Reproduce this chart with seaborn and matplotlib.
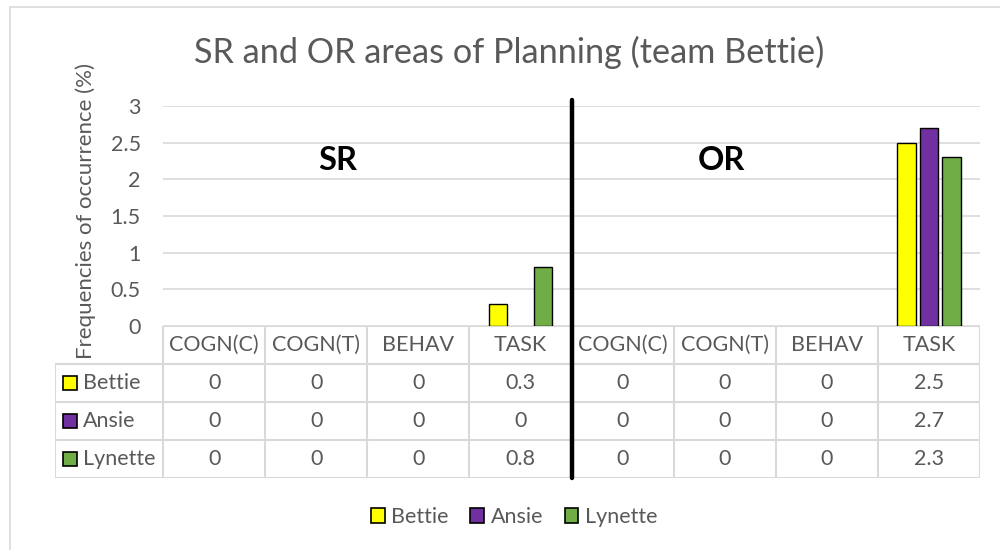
import matplotlib
matplotlib.use("Agg")
import matplotlib.pyplot as plt
import seaborn as sns
import pandas as pd
import numpy as np
from matplotlib.patches import Patch, Rectangle

# ---- data ----
areas = ["SR", "SR", "SR", "SR", "OR", "OR", "OR", "OR"]
categories = ["COGN(C)", "COGN(T)", "BEHAV", "TASK", "COGN(C)", "COGN(T)", "BEHAV", "TASK"]
members = ["Bettie", "Ansie", "Lynette"]
bettie = [0, 0, 0, 0.3, 0, 0, 0, 2.5]
ansie = [0, 0, 0, 0, 0, 0, 0, 2.7]
lynette = [0, 0, 0, 0.8, 0, 0, 0, 2.3]
colors = ["#FFFF00", "#7030A0", "#70AD47"]
yticks = [0, 0.5, 1, 1.5, 2, 2.5, 3]

keys = [f"{a}|{c}" for a, c in zip(areas, categories)]
series = {"Bettie": bettie, "Ansie": ansie, "Lynette": lynette}
rows = []
for m in members:
    for k, v in zip(keys, series[m]):
        rows.append({"key": k, "member": m, "value": v})
df = pd.DataFrame(rows)

sns.set_theme(style="white")
plt.rcParams["font.family"] = ["Lato", "DejaVu Sans"]
TXT = "#595959"
GRID = "#D9D9D9"
FS = 15.5

W, H = 1000, 550
fig = plt.figure(figsize=(10, 5.5), dpi=100)
fig.patch.set_facecolor("white")

# outer border
fig.patches.append(Rectangle((10 / W, -0.1), 1.2, 1.1 - 7 / H, transform=fig.transFigure,
                             fill=False, edgecolor=GRID, lw=1.2))

pl, pr, pt, pb = 163, 980, 106, 326
ax = fig.add_axes([pl / W, 1 - pb / H, (pr - pl) / W, (pb - pt) / H])
ax.set_zorder(3)
ax.patch.set_alpha(0)
sns.barplot(data=df, x="key", y="value", hue="member", order=keys, hue_order=members,
            palette=colors, width=0.66, gap=0.18, edgecolor="black", linewidth=1.0,
            ax=ax, legend=False, saturation=1)
for p in ax.patches:
    if p.get_height() == 0:
        p.set_visible(False)

n = len(keys)
ax.set_xlim(-0.5, n - 0.5)
ax.set_ylim(0, 3)
ax.set_yticks(yticks)
ax.set_yticklabels([f"{t:g}" for t in yticks], color=TXT, fontsize=FS)
ax.tick_params(axis="y", length=0, pad=16)
ax.set_xticks([])
ax.set_xlabel("")
ax.set_ylabel("")
for s in ax.spines.values():
    s.set_visible(False)
ax.yaxis.grid(True, color=GRID, lw=1.2)
ax.set_axisbelow(True)

# area labels
ax.text(1.21, 2.26, "SR", ha="center", va="center", fontsize=23.5, fontweight="bold", color="black")
ax.text(4.97, 2.26, "OR", ha="center", va="center", fontsize=23.5, fontweight="bold", color="black")

# separator
sep = n / 2 - 0.5
tbl_bottom = 478
ax.axvline(sep, ymin=-(tbl_bottom - pb) / (pb - pt), ymax=(pb - 100) / (pb - pt),
           color="black", lw=3.2, clip_on=False, zorder=10)

# ---- data table ----
tl = 55
upx = n / (pr - pl)
xleft = -0.5 - (pl - tl) * upx
tax = fig.add_axes([tl / W, 1 - tbl_bottom / H, (pr - tl) / W, (tbl_bottom - pb) / H])
tax.set_zorder(1)
tax.axis("off")
lk = dict(color=GRID, lw=1.5)
tax.plot([-0.5, n - 0.5], [0, 0], **lk)
for r in range(1, 5):
    tax.plot([xleft, n - 0.5], [r, r], **lk)
for k in range(n + 1):
    tax.plot([k - 0.5, k - 0.5], [0, 4], **lk)
tax.plot([xleft, xleft], [1, 4], **lk)
for i, c in enumerate(categories):
    tax.text(i, 0.5, c, ha="center", va="center", fontsize=FS, color=TXT)
for r, m in enumerate(members, start=1):
    yc = r + 0.5
    tax.plot([xleft + 15 * upx], [yc], marker="s", ms=10, mfc=colors[r - 1],
             mec="black", mew=1.2, clip_on=False)
    tax.text(xleft + 28 * upx, yc, m, ha="left", va="center", fontsize=FS, color=TXT)
    for i, v in enumerate(series[m]):
        tax.text(i, yc, f"{v:g}", ha="center", va="center", fontsize=FS, color=TXT)
tax.set_xlim(xleft, n - 0.5)
tax.set_ylim(4, 0)

# title and y label
fig.text(509 / W, 1 - 52 / H, "SR and OR areas of Planning (team Bettie)", ha="center",
         va="center", fontsize=24.7, color=TXT)
fig.text(86 / W, 1 - 211 / H, "Frequencies of occurrence (%)", rotation=90, ha="center",
         va="center", fontsize=16, color=TXT)

# legend
handles = [Patch(facecolor=c, edgecolor="black", lw=1.2, label=m) for c, m in zip(colors, members)]
fig.legend(handles=handles, loc="center", bbox_to_anchor=(0.514, 1 - 517 / H), ncol=3,
           frameon=False, fontsize=FS, handlelength=0.65, handleheight=0.65,
           handletextpad=0.3, columnspacing=1.0, labelcolor=TXT)

fig.savefig("out.png", dpi=100)
